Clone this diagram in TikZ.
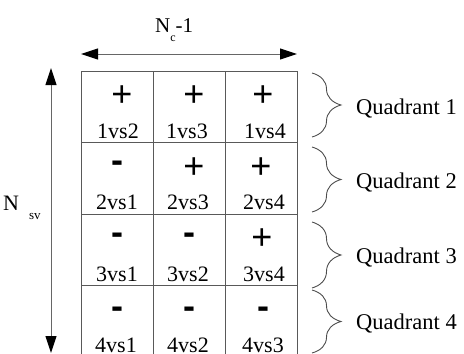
\documentclass[tikz,border=0pt]{standalone}
\usepackage{fontspec}
\setmainfont{Liberation Serif}
\newfontfamily\arialf{Liberation Sans}
\usetikzlibrary{arrows.meta,decorations.pathreplacing}
\begin{document}
\begin{tikzpicture}[x=1pt,y=-1pt,
  cell/.style={draw=black!65, line width=1pt, minimum width=72pt, minimum height=71.5pt, inner sep=0pt, outer sep=0pt},
  possgn/.style={font=\arialf\fontsize{36}{36}\selectfont, inner sep=0pt},
  negsgn/.style={font=\arialf\bfseries\fontsize{36}{36}\selectfont, inner sep=0pt},
  lbl/.style={font=\fontsize{22}{22}\selectfont, anchor=base, inner sep=0pt},
  quad/.style={font=\fontsize{22.5}{22.5}\selectfont, anchor=base west, inner sep=0pt},
  tipx/.tip={Triangle[length=17pt,width=11pt,color=black,fill=black]},
  dimarrow/.style={draw=black!60, line width=1pt, tipx-tipx},
  br/.style={draw=black!70, line width=0.9pt, decorate, decoration={brace, amplitude=29pt}}
]
\useasboundingbox (0,0) rectangle (464,354);
\begin{scope}
\clip (0,0) rectangle (464,354);
% grid cells
\foreach \r in {1,...,4}{
  \foreach \c in {1,...,3}{
    \node[cell] (cell-\r-\c) at ({81+72*(\c-0.5)},{71+71.5*(\r-0.5)}) {};
  }
}
% signs
\node[possgn] (s11) at (122,96) {+};
\node[possgn] (s12) at (194,96) {+};
\node[possgn] (s13) at (263,96) {+};
\node[negsgn] (s21) at (117,167) {-};
\node[possgn] (s22) at (194,168) {+};
\node[possgn] (s23) at (261,168) {+};
\node[negsgn] (s31) at (117,238.5) {-};
\node[negsgn] (s32) at (189,238.5) {-};
\node[possgn] (s33) at (262,239.5) {+};
\node[negsgn] (s41) at (117,313) {-};
\node[negsgn] (s42) at (189,313) {-};
\node[negsgn] (s43) at (263,313) {-};
% labels
\node[lbl] (l11) at (118,138) {1vs2};
\node[lbl] (l12) at (187,138) {1vs3};
\node[lbl] (l13) at (265,138) {1vs4};
\node[lbl] (l21) at (117,209.5) {2vs1};
\node[lbl] (l22) at (188,209.5) {2vs3};
\node[lbl] (l23) at (264,209.5) {2vs4};
\node[lbl] (l31) at (117,281) {3vs1};
\node[lbl] (l32) at (188,281) {3vs2};
\node[lbl] (l33) at (264,281) {3vs4};
\node[lbl] (l41) at (116,352.5) {4vs1};
\node[lbl] (l42) at (188,352.5) {4vs2};
\node[lbl] (l43) at (263,352.5) {4vs3};
\end{scope}
% dimension arrows
\coordinate (ha) at (81,54);
\coordinate (hb) at (297,54);
\draw[dimarrow] (ha) -- (hb);
\coordinate (va) at (51,68);
\coordinate (vb) at (51,353);
\draw[dimarrow] (va) -- (vb);
\node[anchor=base west, inner sep=0pt, font=\fontsize{21}{21}\selectfont] (nc) at (155,32)
  {N\raisebox{-9pt}{\fontsize{12}{12}\selectfont c}-1};
\node[anchor=base west, inner sep=0pt, font=\fontsize{22}{22}\selectfont] (nsv) at (3,210)
  {N\hspace{10pt}\raisebox{-9pt}{\fontsize{13}{13}\selectfont sv}};
% braces
\draw[br] (312,73) -- (312,137);
\draw[br] (312,147) -- (312,212);
\draw[br] (312,222) -- (312,288);
\draw[br] (312,290) -- (312,353);
\node[quad] (q1) at (356,114) {Quadrant 1};
\node[quad] (q2) at (356,188) {Quadrant 2};
\node[quad] (q3) at (356,263) {Quadrant 3};
\node[quad] (q4) at (356,329) {Quadrant 4};
\end{tikzpicture}
\end{document}
